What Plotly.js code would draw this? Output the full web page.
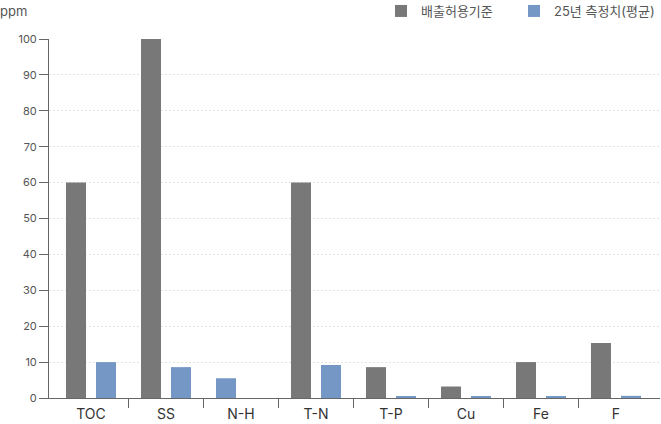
<!DOCTYPE html>
<html>
<head>
<meta charset="utf-8">
<script src="https://cdn.plot.ly/plotly-3.0.1.min.js"></script>
<style>
  html, body { margin: 0; padding: 0; background: #fff; }
  #chart { width: 661px; height: 424px; }
</style>
</head>
<body>
<div id="chart"></div>
<script>
const categories = ["TOC", "SS", "N-H", "T-N", "T-P", "Cu", "Fe", "F"];
const limitValues = [60, 100, null, 60, 8.6, 3.2, 10, 15.3];
const measuredValues = [10, 8.6, 5.5, 9.2, 0.3, 0.3, 0.3, 0.6];
const seriesNames = ["배출허용기준", "25년 측정치(평균)"];
const boundaryTicks = [0.5, 1.5, 2.5, 3.5, 4.5, 5.5, 6.5];

const fontFamily = "Inter, 'Noto Sans CJK KR', sans-serif";
const barWidth = 4 / 15;

// blue bar moves into the left slot where there is no limit value
const measuredOffsets = limitValues.map(v => v === null ? -1 / 3 : 1 / 15);

const limitBars = {
    type: "bar",
    name: seriesNames[0],
    x: categories,
    y: limitValues,
    width: barWidth,
    offset: -1 / 3,
    marker: {color: "#787878"},
    legend: "legend",
    hoverinfo: "x+y"
};

const measuredBars = {
    type: "bar",
    name: seriesNames[1],
    x: categories,
    y: measuredValues,
    width: barWidth,
    offset: measuredOffsets,
    marker: {color: "#7497c6"},
    legend: "legend2",
    hoverinfo: "x+y"
};

// empty helper trace so the boundary tick axis gets drawn
const tickHelper = {
    type: "scatter",
    mode: "none",
    x: [boundaryTicks[0]],
    y: [0],
    xaxis: "x2",
    showlegend: false,
    hoverinfo: "skip"
};

const xRange = [-0.56, 7.587];

// one legend per series so each entry sits where the reference has it
const legendStyle = {
    orientation: "h",
    xref: "container",
    yref: "container",
    xanchor: "left",
    y: 1 - 11 / 424,
    yanchor: "middle",
    font: {size: 13, color: "#555"},
    itemwidth: 30,
    bgcolor: "rgba(0,0,0,0)"
};

Plotly.newPlot("chart", [limitBars, measuredBars, tickHelper], {
    width: 661,
    height: 424,
    margin: {l: 49, r: 1, t: 39, b: 26},
    paper_bgcolor: "#fff",
    plot_bgcolor: "#fff",
    font: {family: fontFamily, size: 12, color: "#555"},
    barmode: "overlay",
    xaxis: {
        type: "category",
        range: xRange,
        showline: true,
        linecolor: "#666",
        linewidth: 1,
        ticks: "outside",
        ticklen: 3,
        tickcolor: "rgba(0,0,0,0)",
        tickfont: {size: 14, color: "#333"},
        showgrid: false,
        zeroline: false,
        fixedrange: true
    },
    xaxis2: {
        overlaying: "x",
        anchor: "y",
        side: "bottom",
        type: "linear",
        range: xRange,
        tickmode: "array",
        tickvals: boundaryTicks,
        ticks: "outside",
        ticklen: 9,
        tickcolor: "#666",
        showticklabels: false,
        showline: false,
        showgrid: false,
        zeroline: false
    },
    yaxis: {
        range: [0, 100],
        dtick: 10,
        tick0: 0,
        showline: true,
        linecolor: "#666",
        linewidth: 1,
        ticks: "outside",
        ticklen: 9,
        tickcolor: "#666",
        tickfont: {size: 11, color: "#555"},
        showgrid: true,
        gridcolor: "#e3e3e3",
        griddash: "2px,2px",
        zeroline: false,
        fixedrange: true
    },
    showlegend: true,
    legend: Object.assign({}, legendStyle, {x: 381 / 661}),
    legend2: Object.assign({}, legendStyle, {x: 514 / 661}),
    annotations: [
        {
            text: "ppm",
            xref: "paper",
            yref: "paper",
            x: -49 / 611,
            xanchor: "left",
            xshift: -2,
            y: 1,
            yshift: 28,
            yanchor: "middle",
            showarrow: false,
            font: {size: 13, color: "#555"}
        }
    ]
}, {displayModeBar: false});
</script>
</body>
</html>
